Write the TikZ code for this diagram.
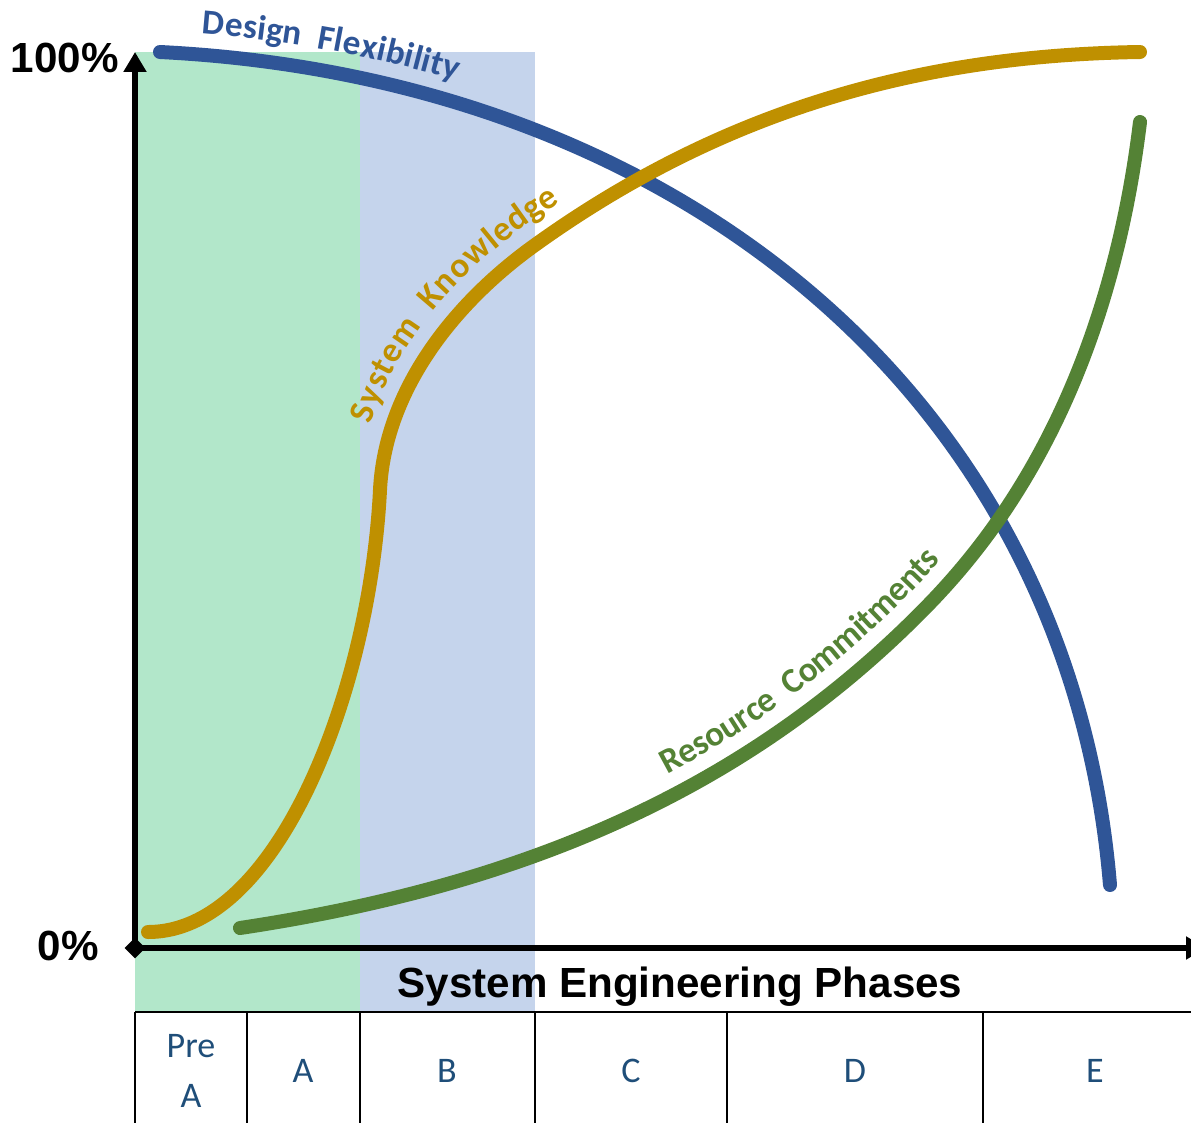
\documentclass[tikz,border=0pt]{standalone}
\usepackage{fontspec}
\newfontfamily\arialfont{Liberation Sans}
\newfontfamily\calibrifont{Carlito}
\usepackage{tikz}
\usetikzlibrary{arrows.meta, positioning, shapes.geometric, decorations.text}
\usepackage{xcolor}

\definecolor{flexblue}{HTML}{2F5597}
\definecolor{knowgold}{HTML}{BF9000}
\definecolor{resgreen}{HTML}{548235}
\definecolor{earlyfill}{HTML}{B2E7CA}
\definecolor{bfill}{HTML}{C5D4EC}
\definecolor{phasetext}{HTML}{1F4E79}

\begin{document}
\begin{tikzpicture}[
        x=0.02cm, y=-0.02cm,
        >={Triangle[width=0.44cm, length=0.4cm]},
        axis/.style={line width=0.11cm},
        cell/.style={line width=0.05cm},
        curve/.style={line width=0.28cm, line cap=round},
        axislabel/.style={font=\arialfont\bfseries\fontsize{24}{28}\selectfont, inner sep=0pt},
        phase/.style={font=\calibrifont\fontsize{20.5}{28.5}\selectfont, text=phasetext, align=center},
        curvelabel/.style n args={3}{decorate, decoration={text along path,
            text={|\calibrifont\bfseries\fontsize{20}{24}\selectfont\color{#1}|#2},
            text align={left indent=#3}, raise=0.42cm}}
      ]

      \useasboundingbox (0,0) rectangle (1191,1123);

      % Phase shading
      \fill[earlyfill] (135,52) rectangle (360,1012);
      \fill[bfill] (360,52) rectangle (535,1012);

      % Axes
      \node [diamond, fill=black, inner sep=0pt, minimum size=0.42cm] (O) at (135,948) {};
      \coordinate (ytop) at (135,52);
      \coordinate (xend) at (1206,948);
      \draw[axis, ->] (O.center) -- (ytop);
      \draw[axis, ->] (O.center) -- (xend);

      \node [axislabel, anchor=east] (full) at (119,58) {100\%};
      \node [axislabel, anchor=east] (zero) at (99,946) {0\%};
      \node [axislabel] (title) at (680,987) {System Engineering Phases};

      % Phase table
      \draw[cell] (135,1012) -- (1191,1012);
      \foreach \xx in {135,247,360,535,727,983}
        \draw[cell] (\xx,1012) -- (\xx,1130);

      \node [phase] (preA) at (191,1071) {Pre\\A};
      \node [phase] (phA) at (303,1071) {A};
      \node [phase] (phB) at (447,1071) {B};
      \node [phase] (phC) at (631,1071) {C};
      \node [phase] (phD) at (855,1071) {D};
      \node [phase] (phE) at (1095,1071) {E};

      % Design flexibility
      \draw[curve, flexblue] (160,52) .. controls (680,78) and (1070,400) .. (1110,885);
      \path[curvelabel={flexblue}{Design{\ \ }Flexibility}{0.8cm}]
        (160,52) .. controls (680,78) and (1070,400) .. (1110,885);

      % System knowledge
      \draw[curve, knowgold] (148,932) .. controls (278,932) and (370,690) .. (380,490)
        .. controls (385,390) and (454,303) .. (535,245)
        .. controls (737,100) and (940,55) .. (1140,52);
      \path[curvelabel={knowgold}{System{\ \ }Knowledge}{1.2cm}]
        (380,490) .. controls (385,390) and (454,303) .. (535,245)
        .. controls (737,100) and (940,55) .. (1140,52);

      % Resource commitments
      \draw[curve, resgreen] (240,928) .. controls (540,883) and (760,780) .. (933,600)
        .. controls (988,542) and (1106,402) .. (1140,122);
      \path[curvelabel={resgreen}{Resource{\ \ }Commitments}{9.2cm}]
        (240,928) .. controls (540,883) and (760,780) .. (933,600)
        .. controls (988,542) and (1106,402) .. (1140,122);

    \end{tikzpicture}
\end{document}
